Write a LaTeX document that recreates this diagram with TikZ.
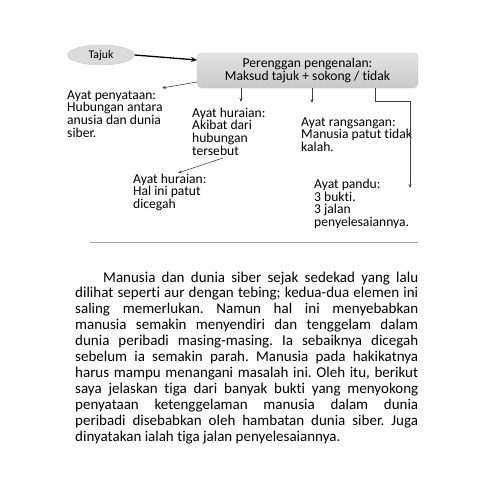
\documentclass[tikz,border=0pt]{standalone}
\usepackage{fontspec}
\setmainfont{Carlito}[Ligatures=NoCommon]
\usetikzlibrary{arrows.meta,shapes.geometric}
\begin{document}
\frenchspacing
\begin{tikzpicture}[x=1pt,y=-1pt,
  lbl/.style={anchor=base west, align=left, inner sep=0pt, font=\fontsize{13.6}{12.7}\selectfont},
  conn/.style={draw=black!75, line width=0.6pt, -{Stealth[length=4pt,width=3pt]}},
  bodyline/.style={anchor=base west, inner sep=0pt, font=\fontsize{15}{16}\selectfont}]
\useasboundingbox[fill=white] (0,0) rectangle (495,495);
% title ellipse and intro box
\node[ellipse, draw=gray!40, fill=gray!28, minimum width=67, minimum height=20, inner sep=0pt,
      font=\fontsize{11.7}{12}\selectfont] (tajuk) at (101,55) {Tajuk};
\node[rounded corners=5pt, top color=gray!22, bottom color=gray!42, draw=gray!45,
      minimum width=221, minimum height=35, inner sep=0pt] (intro) at (307.5,70.5) {};
\node[align=center, inner sep=0pt, font=\fontsize{13.6}{13}\selectfont, anchor=base]
      (introtext) at (307.5,80.5) {Perenggan pengenalan:\\Maksud tajuk + sokong / tidak};
% text blocks (anchored at the baseline of their last line)
\node[lbl] (penyataan) at (67,137.1) {Ayat penyataan:\\Hubungan antara\\anusia dan dunia\\siber.};
\node[lbl] (huraianA) at (192,155.1) {Ayat huraian:\\Akibat dari\\hubungan\\tersebut};
\node[lbl] (huraianB) at (133,208.4) {Ayat huraian:\\Hal ini patut\\dicegah};
\node[lbl] (rangsangan) at (301,151.4) {Ayat rangsangan:\\Manusia patut tidak\\kalah.};
\node[lbl] (pandu) at (314,226.5) {Ayat pandu:\\3 bukti.\\3 jalan\\penyelesaiannya.};
% connector points
\coordinate (introIn) at (197,60);
\coordinate (introL) at (197,82);
\coordinate (penyIn) at (162,88);
\coordinate (hA) at (241,88);
\coordinate (hAin) at (241,102);
\coordinate (rA) at (312,88);
\coordinate (rAin) at (312,103);
\coordinate (pA) at (375,88);
\coordinate (pB) at (375,101);
\coordinate (pC) at (410,101);
\coordinate (pIn) at (410,188);
\coordinate (hBout) at (223,158);
\coordinate (hBin) at (178,173);
% connectors
\draw[line width=1.3pt, -{Stealth[length=6pt,width=5pt]}] (tajuk.east) -- (introIn);
\draw[conn] (introL) -- (penyIn);
\draw[conn] (hA) -- (hAin);
\draw[conn] (rA) -- (rAin);
\draw[conn] (pA) -- (pB) -- (pC) -- (pIn);
\draw[conn] (hBout) -- (hBin);
% separator
\coordinate (sepL) at (90,242);
\coordinate (sepR) at (418,242);
\draw[gray!70, line width=0.9pt] (sepL) -- (sepR);
% body paragraph
\node[bodyline] (b1) at (103,282) {\makebox[315pt][s]{Manusia dan dunia siber sejak sedekad yang lalu}};
\node[bodyline] (b2) at (75,297.9) {\makebox[343pt][s]{dilihat seperti aur dengan tebing; kedua-dua elemen ini}};
\node[bodyline] (b3) at (75,313.8) {\makebox[343pt][s]{saling memerlukan. Namun hal ini menyebabkan}};
\node[bodyline] (b4) at (75,329.7) {\makebox[343pt][s]{manusia semakin menyendiri dan tenggelam dalam}};
\node[bodyline] (b5) at (75,345.6) {\makebox[343pt][s]{dunia peribadi masing-masing. Ia sebaiknya dicegah}};
\node[bodyline] (b6) at (75,361.5) {\makebox[343pt][s]{sebelum ia semakin parah. Manusia pada hakikatnya}};
\node[bodyline] (b7) at (75,377.4) {\makebox[343pt][s]{harus mampu menangani masalah ini. Oleh itu, berikut}};
\node[bodyline] (b8) at (75,393.3) {\makebox[343pt][s]{saya jelaskan tiga dari banyak bukti yang menyokong}};
\node[bodyline] (b9) at (75,409.2) {\makebox[343pt][s]{penyataan ketenggelaman manusia dalam dunia}};
\node[bodyline] (b10) at (75,425.1) {\makebox[343pt][s]{peribadi disebabkan oleh hambatan dunia siber. Juga}};
\node[bodyline] (b11) at (75,441) {dinyatakan ialah tiga jalan penyelesaiannya.};
\end{tikzpicture}
\end{document}
